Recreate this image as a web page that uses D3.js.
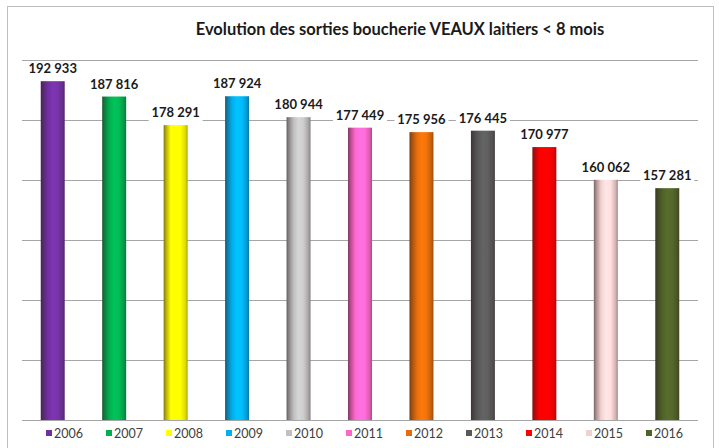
<!DOCTYPE html>
<html>
<head>
<meta charset="utf-8">
<script src="https://cdn.jsdelivr.net/npm/d3@7"></script>
<style>
  body { margin: 0; background: #fff; }
  svg { display: block; }
</style>
</head>
<body>
<svg id="chart" width="719" height="448"></svg>
<script>
// Données
const annees = ["2006", "2007", "2008", "2009", "2010", "2011", "2012", "2013", "2014", "2015", "2016"]
const sorties = [192933, 187816, 178291, 187924, 180944, 177449, 175956, 176445, 170977, 160062, 157281]
const couleurs = ["#7030a0", "#00b050", "#ffff00", "#00b0f0", "#c0c0c0", "#ff66cc", "#e46c0a", "#595959", "#ff0000", "#f2d0d0", "#4f6228"]
const yTicks = [80000, 100000, 120000, 140000, 160000, 180000, 200000]

const titre = "Evolution des sorties boucherie VEAUX laitiers < 8 mois"

const svg = d3.select("#chart")
const font = "Lato, 'Open Sans', sans-serif"

// Cadre
svg.append("rect")
  .attr("x", 7.5).attr("y", 6.5)
  .attr("width", 706).attr("height", 460)
  .style("fill", "#fff")
  .style("stroke", "#bfbfbf")

const margin = {top: 60, left: 22, right: 22, bottom: 28}
const width = 698 - margin.left
const height = 420 - margin.top

const g = svg.append("g").attr("transform", `translate(${margin.left},${margin.top})`)

const x = d3.scaleBand().domain(annees).range([0, width]).paddingInner(0.61).paddingOuter(0.305)
const y = d3.scaleLinear().domain([80000, 200000]).range([height, 0])

// Grille
g.append("g")
  .attr("class", "grid")
  .call(d3.axisLeft(y).tickValues(yTicks).tickSize(-width).tickFormat(""))
  .call(a => a.select(".domain").remove())
  .selectAll("line")
  .style("stroke", "#a6a6a6")
  .style("stroke-width", 1)

// Dégradés cylindriques
const defs = svg.append("defs")
couleurs.forEach((c, i) => {
  const base = d3.color(c)
  const dark = d3.interpolateRgb(c, "#2a1a1a")
  const grad = defs.append("linearGradient").attr("id", "cyl" + i)
    .attr("x1", "0").attr("x2", "1").attr("y1", "0").attr("y2", "0")
  const stops = [
    [0, dark(0.6)],
    [0.1, dark(0.35)],
    [0.3, base],
    [0.5, base.brighter(0.3)],
    [0.7, base.brighter(0.2)],
    [0.9, dark(0.15)],
    [1, dark(0.4)]
  ]
  stops.forEach(([o, col]) => grad.append("stop").attr("offset", o).attr("stop-color", col))
})

// Barres
g.selectAll(".bar")
  .data(sorties)
  .enter().append("rect")
  .attr("class", "bar")
  .attr("x", (d, i) => x(annees[i]))
  .attr("width", x.bandwidth())
  .attr("y", d => y(d))
  .attr("height", d => height - y(d))
  .style("fill", (d, i) => `url(#cyl${i})`)

// Axe de base
g.append("line")
  .attr("x1", 0).attr("x2", width)
  .attr("y1", height + 0.5).attr("y2", height + 0.5)
  .style("stroke", "#a6a6a6")

// Etiquettes de valeurs (fond blanc qui coupe la grille)
const fmt = d => d3.format(",")(d).replace(/,/g, " ")
const labels = g.selectAll(".lab")
  .data(sorties)
  .enter().append("g")
  .attr("class", "lab")
  .attr("transform", (d, i) => `translate(${x(annees[i]) + x.bandwidth() / 2},${y(d) - 8})`)

labels.append("rect")
  .attr("x", -27).attr("y", -12)
  .attr("width", 54).attr("height", 16)
  .style("fill", "#fff")

labels.append("text")
  .attr("text-anchor", "middle")
  .style("font-family", font)
  .style("font-weight", "bold")
  .style("font-size", "13px")
  .style("fill", "#1a1a1a")
  .text(fmt)

// Titre
svg.append("text")
  .attr("x", 400).attr("y", 35)
  .attr("text-anchor", "middle")
  .style("font-family", font)
  .style("font-weight", "bold")
  .style("font-size", "16.5px")
  .style("fill", "#1a1a1a")
  .text(titre)

// Légende
const leg = svg.append("g").selectAll("g")
  .data(annees)
  .enter().append("g")
  .attr("transform", (d, i) => `translate(${46 + i * 60},433)`)

leg.append("rect")
  .attr("x", 0).attr("y", -3)
  .attr("width", 6).attr("height", 6)
  .style("fill", (d, i) => couleurs[i])

leg.append("text")
  .attr("x", 8).attr("y", 4.5)
  .style("font-family", font)
  .style("font-size", "12.5px")
  .style("fill", "#404040")
  .text(d => d)
</script>
</body>
</html>
